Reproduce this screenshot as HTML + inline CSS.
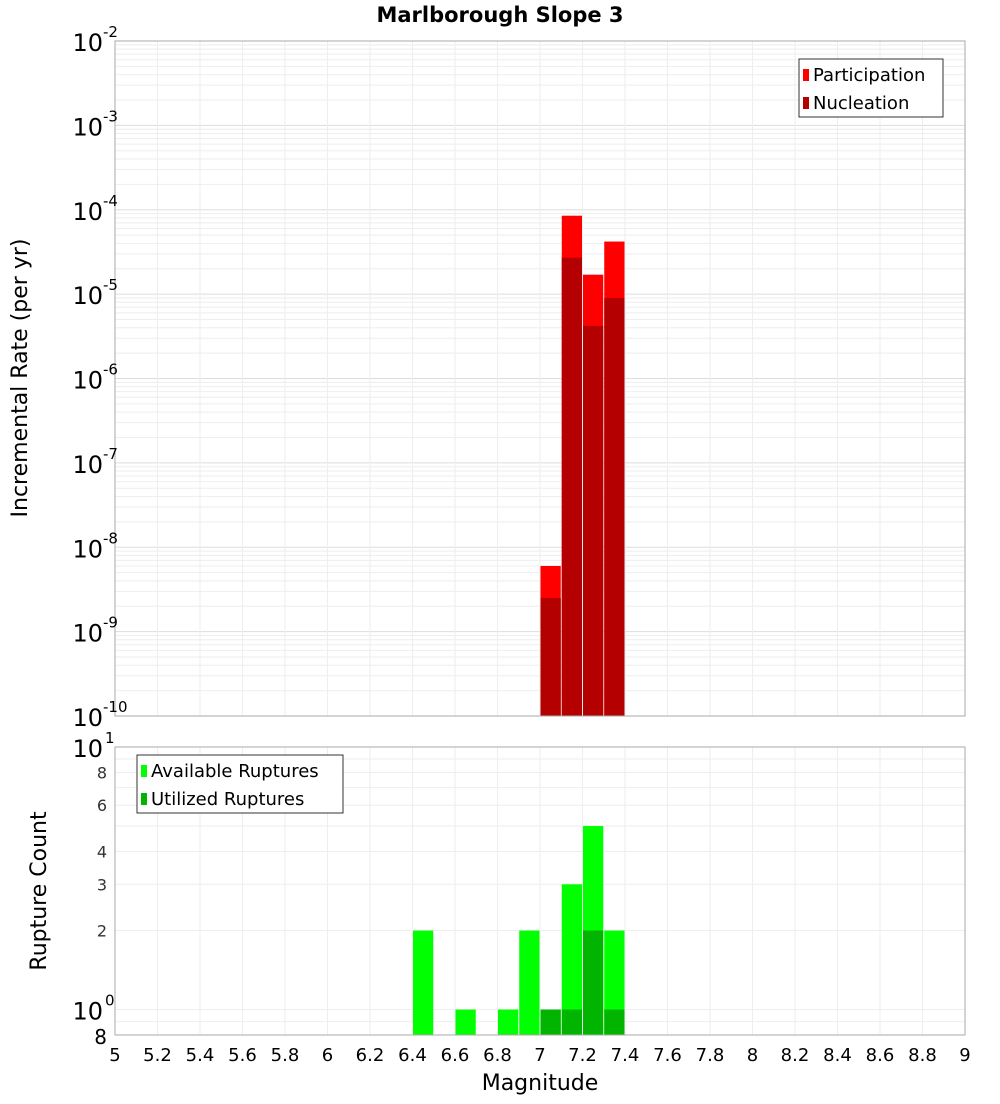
<!DOCTYPE html>
<html><head><meta charset="utf-8"><style>
body{margin:0;background:#fff;font-family:"DejaVu Sans","Liberation Sans",sans-serif}
</style></head><body>
<svg id="c" width="1000" height="1100" xmlns="http://www.w3.org/2000/svg" font-family="DejaVu Sans, Liberation Sans, sans-serif">
<text x="500" y="22" text-anchor="middle" font-size="21" font-weight="bold">Marlborough Slope 3</text>
<text transform="translate(27,378) rotate(-90)" text-anchor="middle" font-size="22">Incremental Rate (per yr)</text>
<text transform="translate(46,891) rotate(-90)" text-anchor="middle" font-size="22">Rupture Count</text>
<text x="540" y="1090" text-anchor="middle" font-size="22">Magnitude</text>
<g id="g"></g>
</svg>
<script>
const binCenters=[7.05,7.15,7.25,7.35];
const participation=[6e-9,8.5e-5,1.7e-5,4.2e-5];
const nucleation=[2.5e-9,2.7e-5,4.2e-6,9e-6];
const countCenters=[6.45,6.65,6.85,6.95,7.05,7.15,7.25,7.35];
const available=[2,1,1,2,1,3,5,2];
const utilized=[0,0,0,0,1,1,2,1];
const xTicks=[5,5.2,5.4,5.6,5.8,6,6.2,6.4,6.6,6.8,7,7.2,7.4,7.6,7.8,8,8.2,8.4,8.6,8.8,9];
const topExps=[-2,-3,-4,-5,-6,-7,-8,-9,-10];
const botTicks=[8,6,4,3,2];

const NS="http://www.w3.org/2000/svg";
const g=document.getElementById('g');
function el(t,a,txt){const e=document.createElementNS(NS,t);for(const k in a)e.setAttribute(k,a[k]);if(txt!=null)e.textContent=txt;g.appendChild(e);return e;}
const L=115,R=965,T1=41,B1=716,T2=747,B2=1035;
const x=m=>L+(m-5)/4*(R-L);
const y1=v=>T1+(-2-Math.log10(v))/8*(B1-T1);
const y2=v=>T2+(1-Math.log10(v))/(1-Math.log10(0.8))*(B2-T2);
const bw=(R-L)/40;
// grids
for(let d=-10;d<-2;d++)for(let k=1;k<10;k++){const yy=y1(k*Math.pow(10,d));const l=el('line',{x1:L,x2:R,y1:yy,y2:yy,stroke:k==1?'#ddd':'#eee','stroke-width':1});}
[0.8,0.9,1,2,3,4,5,6,7,8,9,10].forEach(v=>{const yy=y2(v);const l=el('line',{x1:L,x2:R,y1:yy,y2:yy,stroke:'#eee'});});
xTicks.forEach(t=>{[[T1,B1],[T2,B2]].forEach(([a,b])=>{const l=el('line',{x1:x(t),x2:x(t),y1:a,y2:b,stroke:'#eee'});});});
// top bars
binCenters.forEach((c,i)=>{
 const x0=x(c)-bw/2+0.5,w=bw-1;
 const p=el('rect',{x:x0,y:y1(participation[i]),width:w,height:B1-y1(participation[i]),fill:'#ff0000'});
 
 const n=el('rect',{x:x0,y:y1(nucleation[i]),width:w,height:B1-y1(nucleation[i]),fill:'#b40000'});
 
});
countCenters.forEach((c,i)=>{
 const x0=x(c)-bw/2+0.5,w=bw-1;
 if(available[i]>0){const a=el('rect',{x:x0,y:y2(available[i]),width:w,height:B2-y2(available[i]),fill:'#00ff00'});
 }
 if(utilized[i]>0){const u=el('rect',{x:x0,y:y2(utilized[i]),width:w,height:B2-y2(utilized[i]),fill:'#00b400'});
 }
});
// frames
[[T1,B1],[T2,B2]].forEach(([a,b])=>{const r=el('rect',{x:L,y:a,width:R-L,height:b-a,fill:'none',stroke:'#aaa'});});
// top y labels
topExps.forEach(e=>{const yy=y1(Math.pow(10,e));
 const t=el('text',{x:103,y:yy+10,'text-anchor':'end','font-size':24},'10');
 const s=el('text',{x:103,y:yy-4,'font-size':15},String(e));});
// bottom y labels
[[10,'1'],[1,'0']].forEach(([v,e])=>{const yy=y2(v);
 const t=el('text',{x:103,y:yy+10,'text-anchor':'end','font-size':24},'10');
 const s=el('text',{x:105,y:yy-4,'font-size':15},e);});
botTicks.forEach(v=>{const t=el('text',{x:107,y:y2(v)+6,'text-anchor':'end','font-size':16,fill:'#333'},String(v));});
{const t=el('text',{x:107,y:B2+9,'text-anchor':'end','font-size':20},'8');}
xTicks.forEach(t=>{const e=el('text',{x:x(t),y:1061,'text-anchor':'middle','font-size':18},String(t));});
// legends
function legend(x0,y0,w,items,name){const r=el('rect',{x:x0,y:y0,width:w,height:58,fill:'#fff',stroke:'#333'});
 items.forEach(([c,l],i)=>{const s=el('rect',{x:x0+4,y:y0+10+i*28,width:6,height:12,fill:c});
 const t=el('text',{x:x0+14,y:y0+22+i*28,'font-size':18},l);});}
legend(799,59,144,[['#ff0000','Participation'],['#b40000','Nucleation']],'top-legend');
legend(137,755,206,[['#00ff00','Available Ruptures'],['#00b400','Utilized Ruptures']],'bottom-legend');
</script>
</body></html>
